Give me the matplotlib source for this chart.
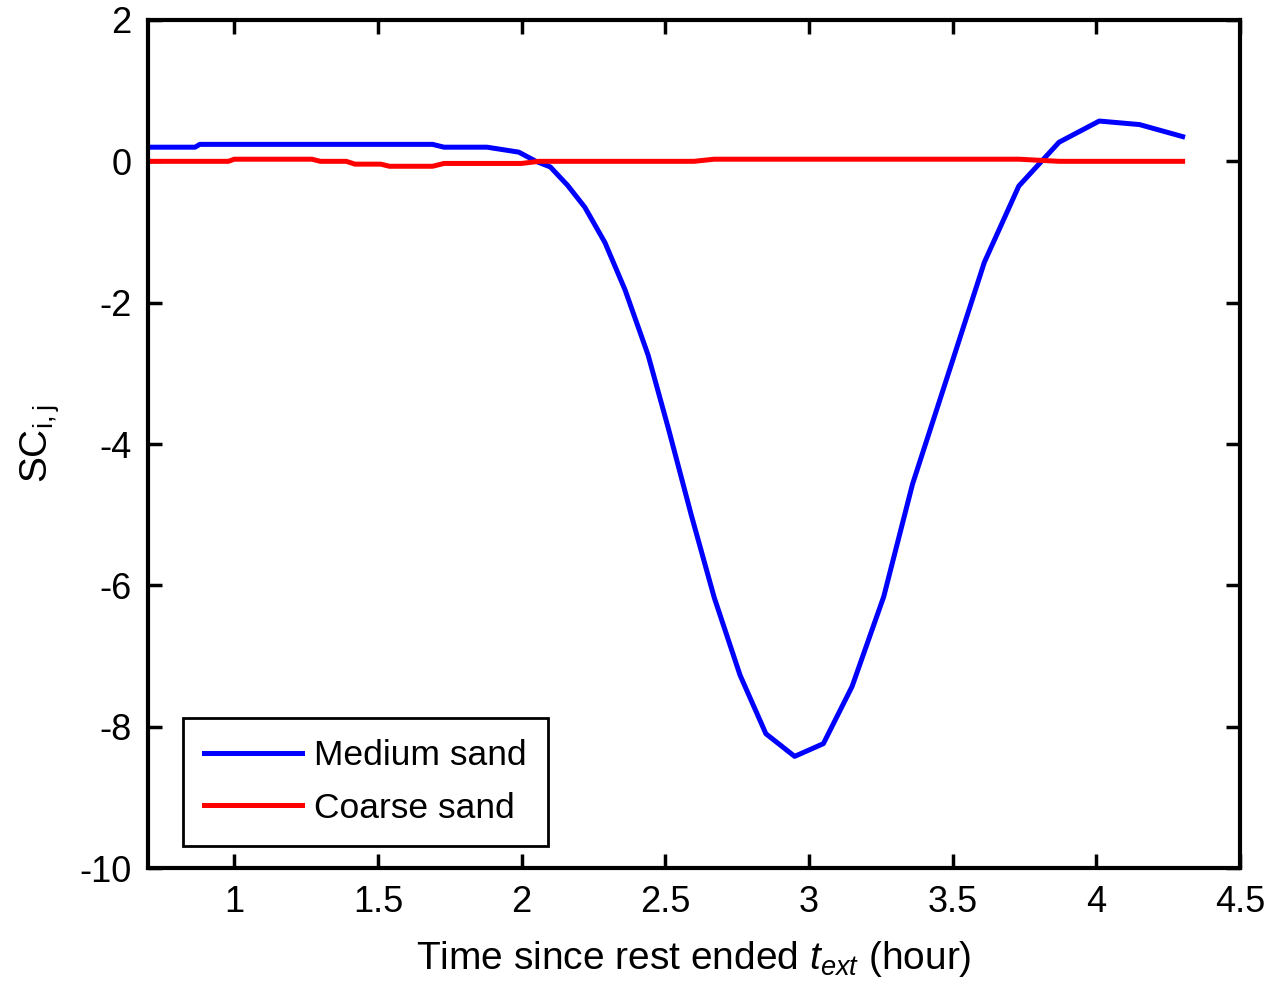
import numpy as np
import matplotlib
matplotlib.use("Agg")
from matplotlib import pyplot as plt

# Medium sand (blue)
t_medium = [0.70, 0.864, 0.88, 1.69, 1.73, 1.88, 1.99, 2.05, 2.10, 2.16, 2.22, 2.29,
            2.36, 2.44, 2.51, 2.59, 2.67, 2.76, 2.85, 2.95, 3.05, 3.15, 3.26, 3.36,
            3.49, 3.61, 3.73, 3.87, 4.01, 4.15, 4.30]
sc_medium = [0.20, 0.20, 0.24, 0.24, 0.20, 0.20, 0.13, 0.0, -0.08, -0.34, -0.65, -1.15,
             -1.82, -2.74, -3.77, -5.0, -6.17, -7.27, -8.10, -8.42, -8.24, -7.43, -6.16, -4.57,
             -2.94, -1.43, -0.35, 0.27, 0.57, 0.52, 0.35]

# Coarse sand (red)
t_coarse = [0.70, 0.98, 1.00, 1.27, 1.30, 1.39, 1.42, 1.51, 1.54, 1.69, 1.73, 2.00,
            2.06, 2.60, 2.67, 3.73, 3.87, 4.30]
sc_coarse = [0.0, 0.0, 0.03, 0.03, 0.0, 0.0, -0.04, -0.04, -0.07, -0.07, -0.03, -0.03,
             0.0, 0.0, 0.03, 0.03, 0.0, 0.0]

xticks = [1, 1.5, 2, 2.5, 3, 3.5, 4, 4.5]
yticks = [-10, -8, -6, -4, -2, 0, 2]

fnt = ["Liberation Sans Narrow", "Liberation Sans", "DejaVu Sans"]
plt.rcParams["font.family"] = fnt
plt.rcParams["mathtext.fontset"] = "custom"
plt.rcParams["mathtext.rm"] = "Liberation Sans"
plt.rcParams["mathtext.it"] = "Liberation Sans:italic"

fig = plt.figure(figsize=(12.77, 9.99), dpi=100)
ax = fig.add_axes([0.1159, 0.1311, 0.8552, 0.8489])

ax.plot(t_medium, sc_medium, color="#0000ff", lw=3.6, label="Medium sand")
ax.plot(t_coarse, sc_coarse, color="#ff0000", lw=3.6, label="Coarse sand")

ax.set_xlim(0.7, 4.5)
ax.set_ylim(-10, 2)
ax.set_xticks(xticks)
ax.set_xticklabels(["1", "1.5", "2", "2.5", "3", "3.5", "4", "4.5"])
ax.set_yticks(yticks)
ax.set_yticklabels([str(v) for v in yticks])
ax.tick_params(direction="in", length=10, width=2.5, labelsize=26, top=True, right=True, pad=12)
for s in ax.spines.values():
    s.set_linewidth(3)

ax.set_xlabel(r"Time since rest ended $\it{t}_{\it{ext}}$ (hour)", fontsize=28, labelpad=14)
ax.set_ylabel(r"SC$_{\rm{i,j}}$", fontsize=28, labelpad=12)

leg = ax.legend(loc="lower left", bbox_to_anchor=(0.032, 0.026), borderaxespad=0,
                fontsize=25.5, fancybox=False, edgecolor="black", handlelength=2.75,
                handletextpad=0.35, borderpad=0.6, labelspacing=0.55)
leg.get_frame().set_linewidth(2)
leg.get_frame().set_alpha(1)

fig.savefig("out.png", dpi=100)
